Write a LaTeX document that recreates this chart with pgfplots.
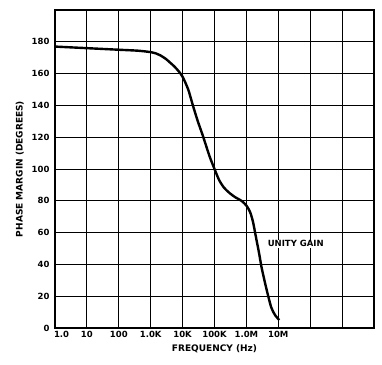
\documentclass[border=0pt]{standalone}
\usepackage{pgfplots}
\pgfplotsset{compat=1.18}
\usepackage{fontspec}
\setmainfont{DejaVu Sans}
\begin{document}
\begin{tikzpicture}
\begin{axis}[
  scale only axis,
  width=319pt, height=318pt,
  xmode=log, log basis x=10,
  xmin=1, xmax=1e10,
  ymin=0, ymax=200,
  xtick={1,10,100,1000,10000,100000,1000000,10000000,100000000,1000000000,10000000000},
  xticklabels={\makebox[0pt][l]{\hspace{-1pt}1.0},10,100,1.0K,10K,100K,1.0M,10M,,,},
  ytick={0,20,...,200},
  yticklabels={0,20,40,60,80,100,120,140,160,180,},
  minor tick num=0,
  xminorticks=false,
  major tick length=0pt,
  grid=major,
  major grid style={black, line width=0.9pt},
  axis line style={black, line width=1.3pt},
  tick label style={font=\fontsize{8.5}{10}\selectfont\bfseries},
  /pgf/number format/assume math mode=true,
  yticklabel style={xshift=-2pt},
  xlabel={FREQUENCY (Hz)},
  ylabel={PHASE MARGIN (DEGREES)},
  label style={font=\fontsize{9}{11}\selectfont\bfseries},
  xlabel style={at={(axis description cs:0.5,-0.066)}, anchor=center},
  ylabel style={at={(axis description cs:-0.11,0.5)}, anchor=center},
  clip=false,
]
\addplot[black, line width=2.4pt, smooth, tension=0.45] coordinates {
  (1,177) (10,176) (100,175) (400,174.4) (1000,173.5) (1500,172.6) (2000,171.5) (3000,169.2)
  (4000,167) (5500,164.5) (7500,161.5) (10000,158) (15000,150) (21000,140)
  (30000,130) (43000,121) (70000,108) (100000,100) (140000,93)
  (200000,88.2) (300000,84.8) (450000,82.2) (700000,80) (1000000,77)
  (1300000,73) (1600000,67) (2000000,57) (2500000,47) (3000000,38)
  (4200000,25) (6000000,13) (8000000,8) (10700000,5)
};
\node[anchor=west, fill=white, inner sep=1pt,
      font=\fontsize{8.5}{10}\selectfont\bfseries]
  at (axis cs:4.3e6,53) {UNITY GAIN};
\end{axis}
% page margins around the plot area
\path ([xshift=-55pt,yshift=-36pt]current axis.south west)
  rectangle ([xshift=8pt,yshift=10pt]current axis.north east);
\end{tikzpicture}
\end{document}
